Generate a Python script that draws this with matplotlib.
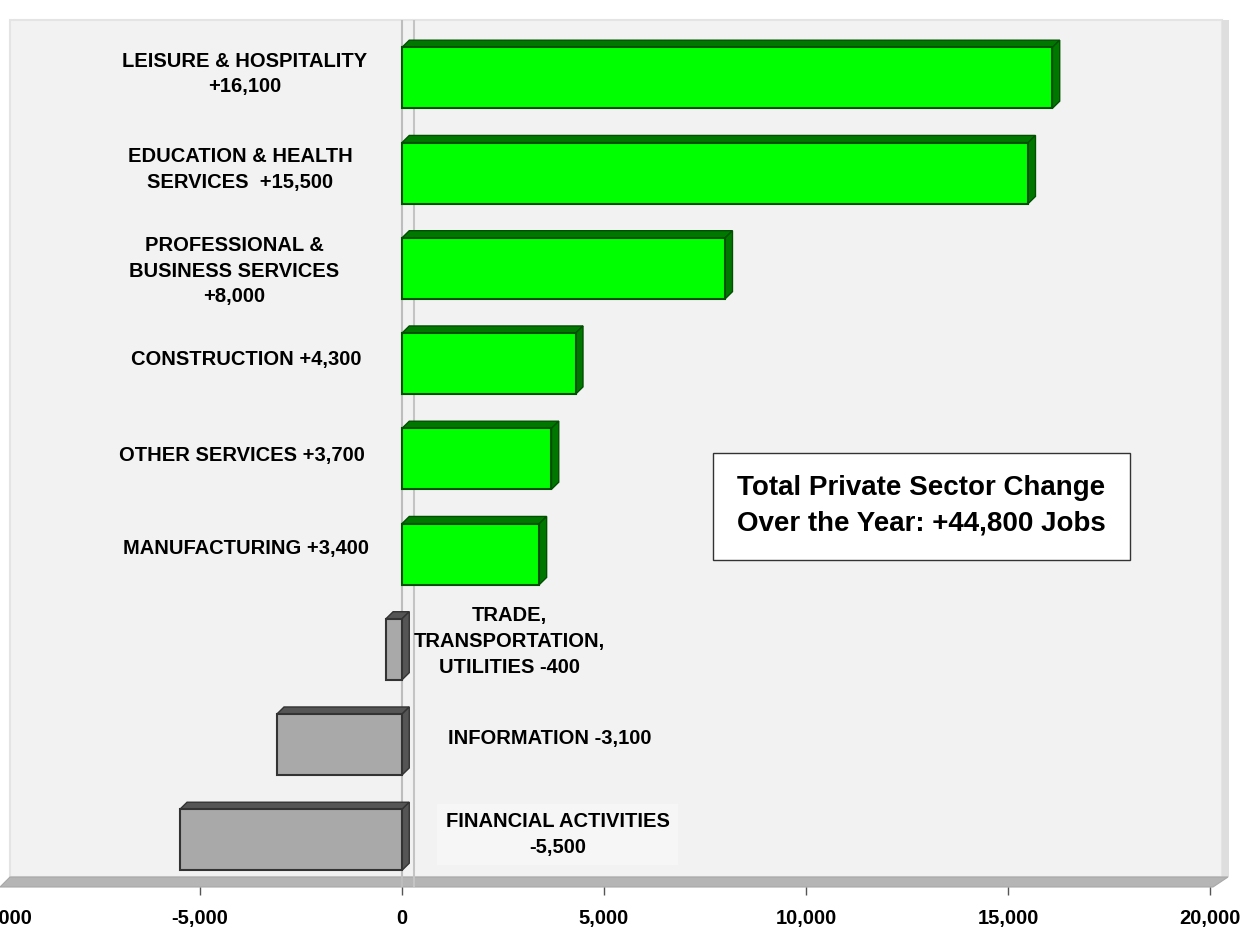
import matplotlib
matplotlib.use("Agg")
import matplotlib.pyplot as plt
from matplotlib.patches import Rectangle, Polygon
from matplotlib.ticker import FuncFormatter

# Data
labels = ["LEISURE & HOSPITALITY\n+16,100",
          "EDUCATION & HEALTH\nSERVICES  +15,500",
          "PROFESSIONAL &\nBUSINESS SERVICES\n+8,000",
          "CONSTRUCTION +4,300",
          "OTHER SERVICES +3,700",
          "MANUFACTURING +3,400",
          "TRADE,\nTRANSPORTATION,\nUTILITIES -400",
          "INFORMATION -3,100",
          "FINANCIAL ACTIVITIES\n-5,500"]
values = [16100, 15500, 8000, 4300, 3700, 3400, -400, -3100, -5500]
xticks = [-10000, -5000, 0, 5000, 10000, 15000, 20000]
box_text = "Total Private Sector Change\nOver the Year: +44,800 Jobs"

# label placement (layout only)
label_x = [-3900, -4000, -4150, -3850, -3950, -3850, 2650, 3650, 3850]
label_dy = [0.0, 0.0, 0.07, 0.0, 0.0, -0.02, -0.04, -0.02, -0.02]

plt.rcParams['font.family'] = ['Liberation Sans', 'DejaVu Sans']
plt.rcParams['font.weight'] = 'bold'

W, H = 1243, 936
fig = plt.figure(figsize=(W / 100, H / 100), dpi=100)
fig.patch.set_facecolor('white')


def fx(px):
    return px / W


def fy(py):
    return 1 - py / H


# back wall, floor and side edge of the pseudo-3D panel
fig.add_artist(Rectangle((fx(10), fy(877)), fx(1222) - fx(10), fy(20) - fy(877),
                         transform=fig.transFigure, facecolor='#f2f2f2',
                         edgecolor='#e4e4e4', lw=1.5, zorder=-3))
fig.add_artist(Rectangle((fx(1222), fy(877)), fx(1229) - fx(1222), fy(20) - fy(877),
                         transform=fig.transFigure, facecolor='#dedede',
                         edgecolor='none', zorder=-2))
fig.add_artist(Polygon([(fx(0), fy(887)), (fx(1213), fy(887)),
                        (fx(1228), fy(877)), (fx(10), fy(877))],
                       transform=fig.transFigure, facecolor='#b5b5b5',
                       edgecolor='#a8a8a8', lw=0.8, zorder=-1))

ax = fig.add_axes([fx(-2), fy(887), fx(1210) - fx(-2), fy(20) - fy(887)])
ax.set_facecolor('none')
ax.set_xlim(-10000, 20000)
ax.set_ylim(8.535, -0.567)

# zero lines
ax.axvline(0, color='#bdbdbd', lw=1.5, zorder=1)
ax.axvline(300, color='#c4c4c4', lw=1.5, zorder=1)

dx, dy = 180, 0.075
bar_h = 0.64
for i, v in enumerate(values):
    if v >= 0:
        face, dark, edge = '#00ff00', '#007800', '#005000'
    else:
        face, dark, edge = '#a9a9a9', '#555555', '#333333'
    left, right = min(0, v), max(0, v)
    yc = i + 0.04
    ytop, ybot = yc - bar_h / 2, yc + bar_h / 2
    # depth: top and right side
    ax.fill([left, left + dx, right + dx, right], [ytop, ytop - dy, ytop - dy, ytop],
            facecolor=dark, edgecolor=edge, lw=1, zorder=2)
    ax.fill([right, right + dx, right + dx, right], [ytop, ytop - dy, ybot - dy, ybot],
            facecolor=dark, edgecolor=edge, lw=1, zorder=2)
    # front face
    ax.barh(yc, abs(v), left=left, height=bar_h, color=face,
            edgecolor=edge, linewidth=1.5, zorder=3)

for i, (lab, lx, ly) in enumerate(zip(labels, label_x, label_dy)):
    bbox = None
    if i == len(labels) - 1:
        bbox = dict(facecolor='#f6f6f6', edgecolor='none', pad=6)
    ax.text(lx, i + ly, lab, ha='center', va='center', fontsize=14.5,
            fontweight='bold', color='black', zorder=4, bbox=bbox,
            linespacing=1.45)

ax.set_xticks(xticks)
ax.xaxis.set_major_formatter(FuncFormatter(lambda x, p: f"{int(x):,}"))
ax.set_yticks([])
for s in ax.spines.values():
    s.set_visible(False)
ax.tick_params(axis='x', direction='out', length=6, width=1, color='#555555',
               labelsize=14.5, pad=10)
for t in ax.get_xticklabels():
    t.set_fontweight('bold')

# summary box
fig.add_artist(Rectangle((fx(713), fy(560)), fx(1130) - fx(713), fy(453) - fy(560),
                         transform=fig.transFigure, facecolor='white',
                         edgecolor='#333333', lw=1, zorder=5))
fig.text(fx(921), fy(506), box_text, ha='center', va='center', fontsize=20,
         fontweight='bold', zorder=6, linespacing=1.45)

fig.savefig("out.png", dpi=100)
